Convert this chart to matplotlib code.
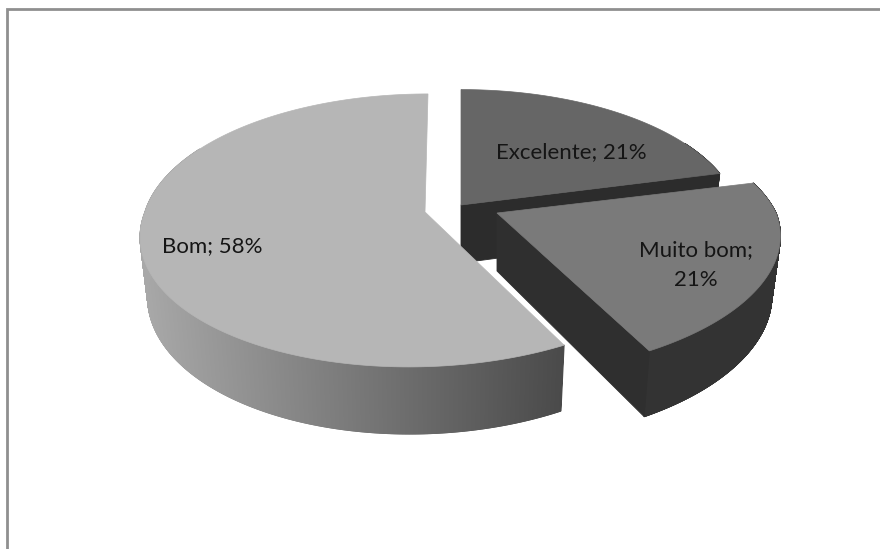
from __future__ import annotations

import matplotlib
matplotlib.use("Agg")
import matplotlib.pyplot as plt
import numpy as np
from matplotlib.collections import PolyCollection
from matplotlib.patches import Polygon

# chart data, clockwise from 12 o'clock
categories = ["Excelente", "Muito bom", "Bom"]
shares = [21, 21, 58]
label_texts = ["Excelente; 21%", "Muito bom;\n21%", "Bom; 58%"]

# layout of the exploded 3D slices, in pixels
center_x = [461, 497, 425]
center_y = [205, 213, 212]
radius_x = [276, 279, 280]
radius_y = [131, 127, 134]
persp = [0.135, 0.22, 0.135]
shear_back = [0, 0, 3.4]
shear_front = [0, 13, 14]
depth = 58
depth_persp = 0.135
vanish_x = 440
bottom_scale = 0.975

top_colors = ["#666666", "#7a7a7a", "#b6b6b6"]
side_grays = [(0.2, 0.2), (0.2, 0.2), (0.66, 0.29)]
cut_colors = ["#2c2c2c", "#2f2f2f", None]
label_xy = [(571, 152), (696, 265), (212, 246)]


def project_top(i: int, angles: np.ndarray) -> tuple[np.ndarray, np.ndarray]:
    u, v = np.sin(angles), np.cos(angles)
    s = 1.0 / (1.0 + persp[i] * v)
    shear = np.where(v > 0, shear_back[i], shear_front[i])
    x = center_x[i] + radius_x[i] * u * s + shear * v * s
    y = center_y[i] - radius_y[i] * v * s
    return x, y


def drop(x: np.ndarray, y: np.ndarray, v: np.ndarray) -> tuple[np.ndarray, np.ndarray]:
    return vanish_x + (x - vanish_x) * bottom_scale, y + depth / (1.0 + depth_persp * v)


def draw_slice(ax, i: int, start: float, stop: float) -> None:
    angles = np.linspace(start, stop, 1500)
    x, y = project_top(i, angles)
    x2, y2 = drop(x, y, np.cos(angles))

    # outer wall in thin strips, only the part that can be seen from the front
    quads, colors = [], []
    for j in range(len(angles) - 1):
        if np.cos(angles[j]) > 0.5:
            continue
        quads.append([(x[j], y[j]), (x[j + 1], y[j + 1]), (x2[j + 1], y2[j + 1]), (x2[j], y2[j])])
        t = (x[j] - x.min()) / (x.max() - x.min())
        gray = side_grays[i][0] + (side_grays[i][1] - side_grays[i][0]) * t
        colors.append((gray, gray, gray))
    ax.add_collection(PolyCollection(quads, facecolors=colors, edgecolors=colors, linewidths=0.8))

    # cut face on the clockwise end of the slice
    if cut_colors[i]:
        ex, ey = project_top(i, np.array([stop]))
        mid_x, mid_y = float(center_x[i]), float(center_y[i])
        bx, by = drop(np.array([mid_x, ex[0]]), np.array([mid_y, ey[0]]), np.array([0.0, np.cos(stop)]))
        ax.add_patch(Polygon([(mid_x, mid_y), (ex[0], ey[0]), (bx[1], by[1]), (mid_x, by[0])], closed=True, facecolor=cut_colors[i], edgecolor=cut_colors[i], linewidth=0.6))

    # top face
    pts = [(center_x[i], center_y[i])] + list(zip(x, y))
    ax.add_patch(Polygon(pts, closed=True, facecolor=top_colors[i], edgecolor=top_colors[i], linewidth=0.5))


def main() -> None:
    plt.rcParams["font.family"] = ["Lato", "DejaVu Sans"]
    fig = plt.figure(figsize=(8.8, 5.49), dpi=100)
    ax = fig.add_axes([0, 0, 1, 1])
    ax.set_xlim(0, 880)
    ax.set_ylim(549, 0)
    ax.axis("off")

    # chart frame: only the top and left edges are inside the crop
    ax.plot([7, 7, 880], [549, 9, 9], color="#8f8f8f", linewidth=2.0, solid_joinstyle="miter")

    edges = np.cumsum([0] + shares) / sum(shares) * 2 * np.pi
    for i in [0, 2, 1]:
        draw_slice(ax, i, edges[i], edges[i + 1])

    for i, text in enumerate(label_texts):
        ax.text(label_xy[i][0], label_xy[i][1], text, ha="center", va="center", fontsize=16, color="#151515", linespacing=1.6)

    fig.savefig("out.png", dpi=100)
    plt.close(fig)


if __name__ == "__main__":
    main()
